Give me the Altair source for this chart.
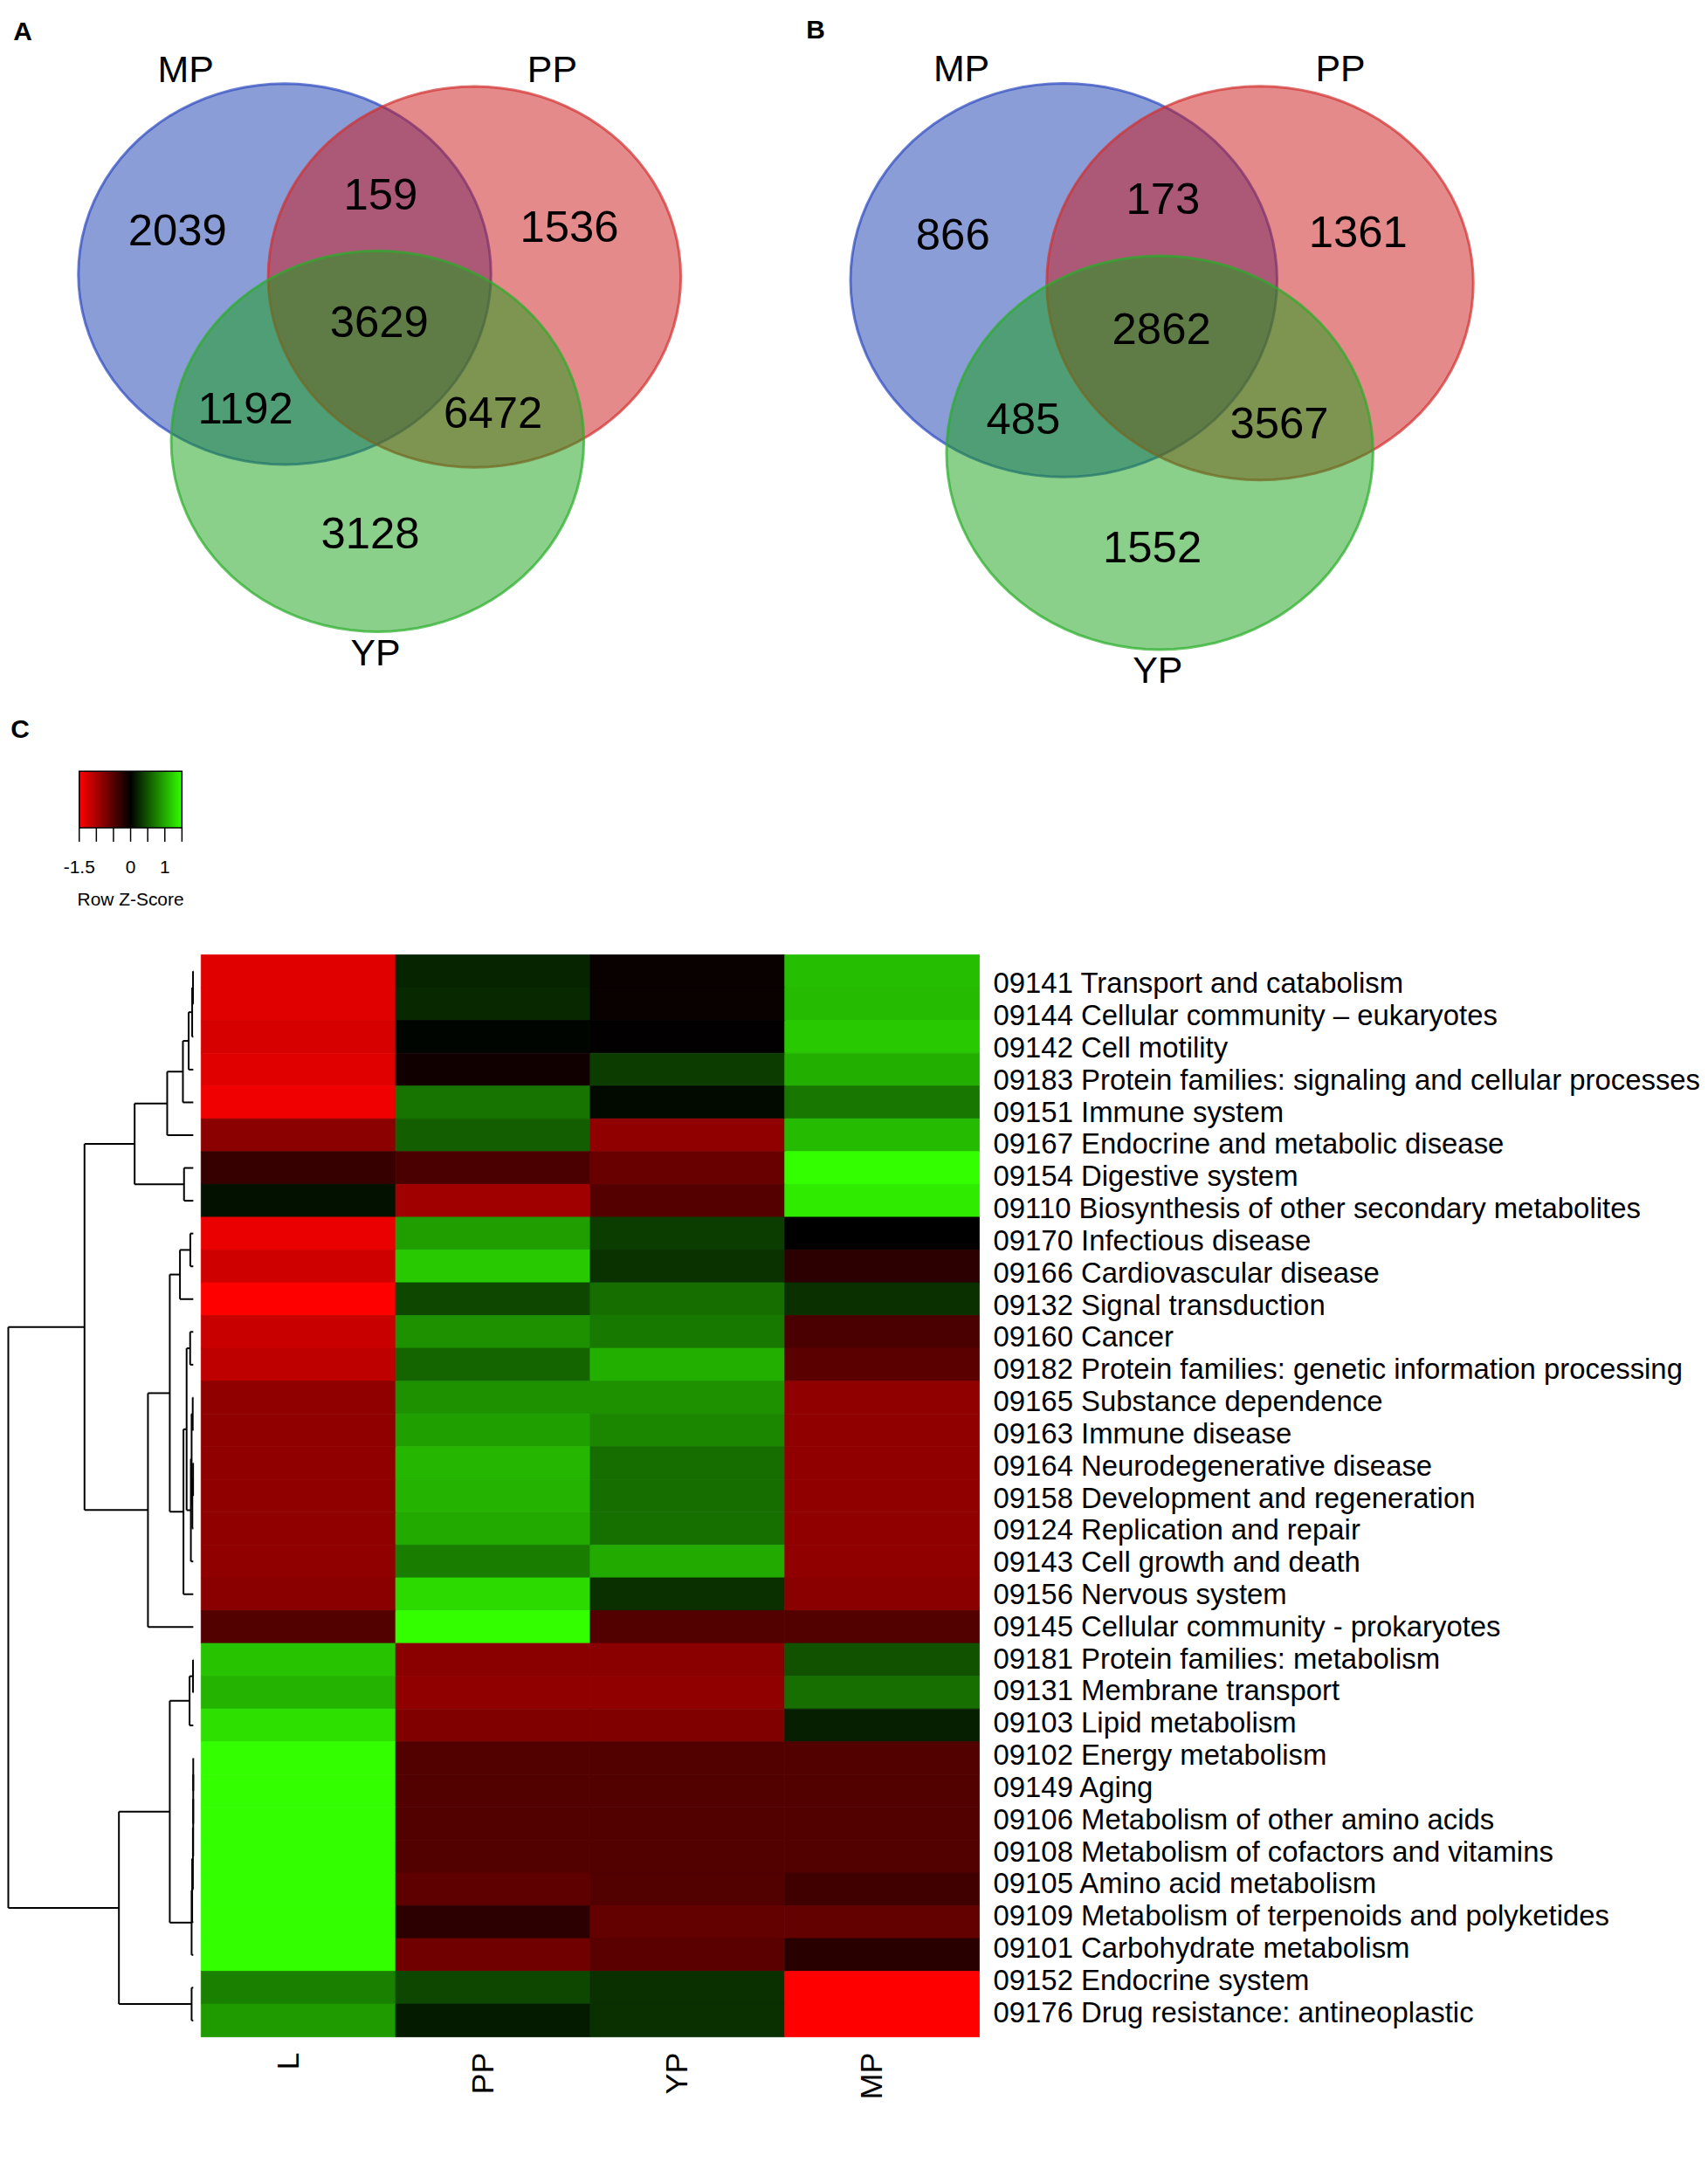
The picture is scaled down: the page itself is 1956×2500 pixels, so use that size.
import math
import altair as alt
import pandas as pd

# ------------------------------------------------------------------ data
venn_sets = ["MP", "PP", "YP"]
venn_regions = ["MP only", "MP&PP", "PP only", "MP&PP&YP", "MP&YP", "PP&YP", "YP only"]
venn_a_counts = [2039, 159, 1536, 3629, 1192, 6472, 3128]
venn_b_counts = [866, 173, 1361, 2862, 485, 3567, 1552]

heat_cols = ["L", "PP", "YP", "MP"]
heat_rows = [
    "09141 Transport and catabolism",
    "09144 Cellular community \u2013 eukaryotes",
    "09142 Cell motility",
    "09183 Protein families: signaling and cellular processes",
    "09151 Immune system",
    "09167 Endocrine and metabolic disease",
    "09154 Digestive system",
    "09110 Biosynthesis of other secondary metabolites",
    "09170 Infectious disease",
    "09166 Cardiovascular disease",
    "09132 Signal transduction",
    "09160 Cancer",
    "09182 Protein families: genetic information processing",
    "09165 Substance dependence",
    "09163 Immune disease",
    "09164 Neurodegenerative disease",
    "09158 Development and regeneration",
    "09124 Replication and repair",
    "09143 Cell growth and death",
    "09156 Nervous system",
    "09145 Cellular community - prokaryotes",
    "09181 Protein families: metabolism",
    "09131 Membrane transport",
    "09103 Lipid metabolism",
    "09102 Energy metabolism",
    "09149 Aging",
    "09106 Metabolism of other amino acids",
    "09108 Metabolism of cofactors and vitamins",
    "09105 Amino acid metabolism",
    "09109 Metabolism of terpenoids and polyketides",
    "09101 Carbohydrate metabolism",
    "09152 Endocrine system",
    "09176 Drug resistance: antineoplastic",
]
z_L = [-1.32, -1.32, -1.26, -1.32, -1.41, -0.82, -0.32, 0.10, -1.38, -1.22, -1.50,
       -1.18, -1.12, -0.85, -0.85, -0.85, -0.85, -0.85, -0.85, -0.81, -0.48,
       1.15, 1.06, 1.32, 1.50, 1.50, 1.50, 1.50, 1.50, 1.50, 1.50, 0.75, 0.91]
z_PP = [0.21, 0.24, 0.03, -0.10, 0.68, 0.56, -0.44, -0.94, 0.93, 1.18, 0.42,
        0.85, 0.59, 0.85, 0.94, 1.07, 1.05, 1.00, 0.74, 1.28, 1.50,
        -0.81, -0.85, -0.75, -0.48, -0.48, -0.48, -0.48, -0.56, -0.26, -0.66, 0.42, 0.16]
z_YP = [-0.05, -0.05, -0.01, 0.35, 0.06, -0.85, -0.62, -0.50, 0.36, 0.29, 0.64,
        0.71, 1.03, 0.85, 0.79, 0.64, 0.64, 0.66, 1.00, 0.28, -0.48,
        -0.81, -0.85, -0.75, -0.48, -0.48, -0.48, -0.48, -0.48, -0.58, -0.53, 0.28, 0.28]
z_MP = [1.12, 1.10, 1.18, 1.03, 0.70, 1.10, 1.50, 1.38, 0.00, -0.26, 0.28,
        -0.44, -0.53, -0.85, -0.85, -0.85, -0.85, -0.85, -0.85, -0.81, -0.48,
        0.48, 0.65, 0.18, -0.48, -0.48, -0.48, -0.48, -0.38, -0.58, -0.24, -1.50, -1.50]

# row dendrogram (hclust-style merge table: negative = leaf position, positive = merge step)
dendro_merges = [
    (-1, -2, 0.14), (1, -3, 0.6), (2, -4, 2.5), (3, -5, 5.6), (4, -6, 14.1),
    (-7, -8, 5.0), (5, 6, 31.7), (-9, -10, 1.6), (8, -11, 7.2), (-12, -13, 1.7),
    (-14, -15, 0.3), (-16, -17, 0.1), (12, -18, 0.5), (11, 13, 0.9), (14, -19, 1.3),
    (10, 15, 3.6), (16, -20, 5.3), (9, 17, 12.7), (18, -21, 24.5), (7, 19, 58.8),
    (-22, -23, 0.14), (21, -24, 2.0), (-25, -26, 0.02), (23, -27, 0.03), (24, -28, 0.04),
    (25, -29, 0.2), (26, -30, 0.6), (27, -31, 0.9), (22, 28, 12.7), (-32, -33, 0.9),
    (29, 30, 40.2), (20, 31, 100.0),
]

legend_ticks = [-1.5, -1.0, -0.5, 0.0, 0.5, 1.0, 1.5]
legend_labels = ["-1.5", "0", "1"]
legend_label_values = [-1.5, 0.0, 1.0]

# ------------------------------------------------------------------ layout / style
FONT = "Liberation Sans, Arial, Helvetica, sans-serif"
NARROW = "Liberation Sans Narrow, Arial Narrow, Liberation Sans, sans-serif"
W, H = 1940, 2484

# Venn geometry in circle-radius units (MP circle centre = origin)
venn_circle_pos = {"MP": (0.0, 0.0), "PP": (0.92, 0.015), "YP": (0.45, 0.877)}
venn_region_pos = [(-0.52, -0.22), (0.465, -0.405), (1.38, -0.236), (0.458, 0.26),
                   (-0.19, 0.715), (1.01, 0.737), (0.415, 1.368)]
venn_label_pos = [(-0.48, -1.067), (1.297, -1.067), (0.44, 1.991)]
venn_fill = ["#173BAD", "#CB1515", "#159F15"]
venn_stroke = ["#2C48C0", "#D23030", "#2AAE2A"]

ASPECT = 0.923
pts = []
for k in range(96):
    t = 2 * math.pi * k / 96
    pts.append(f"{math.cos(t):.4f} {ASPECT * math.sin(t):.4f}")
ELLIPSE = "M " + " L ".join(pts) + " Z"


def venn_panel(counts, x_range, y_range, width_px):
    xs = alt.Scale(domain=[-1, 1], range=x_range)
    ys = alt.Scale(domain=[-1, 1], range=y_range)
    circ = pd.DataFrame({
        "set": venn_sets,
        "ux": [venn_circle_pos[s][0] for s in venn_sets],
        "uy": [venn_circle_pos[s][1] for s in venn_sets],
    })
    ell = alt.Chart(circ).mark_point(
        shape=ELLIPSE, filled=True, opacity=1, fillOpacity=0.5,
        strokeOpacity=0.7, strokeWidth=3, size=width_px ** 2,
    ).encode(
        x=alt.X("ux:Q", scale=xs, axis=None),
        y=alt.Y("uy:Q", scale=ys, axis=None),
        fill=alt.Fill("set:N", scale=alt.Scale(domain=venn_sets, range=venn_fill), legend=None),
        stroke=alt.Stroke("set:N", scale=alt.Scale(domain=venn_sets, range=venn_stroke), legend=None),
        order=alt.Order("order:Q"),
    ).transform_calculate(order="indexof(['MP','PP','YP'], datum.set)")
    reg = pd.DataFrame({
        "region": venn_regions,
        "count": [str(c) for c in counts],
        "ux": [p[0] for p in venn_region_pos],
        "uy": [p[1] for p in venn_region_pos],
    })
    nums = alt.Chart(reg).mark_text(font=FONT, fontSize=51, color="black", baseline="middle").encode(
        x=alt.X("ux:Q", scale=xs, axis=None),
        y=alt.Y("uy:Q", scale=ys, axis=None),
        text="count:N",
    )
    lab = pd.DataFrame({
        "set": venn_sets,
        "ux": [p[0] for p in venn_label_pos],
        "uy": [p[1] for p in venn_label_pos],
    })
    labs = alt.Chart(lab).mark_text(font=FONT, fontSize=43, color="black", baseline="middle").encode(
        x=alt.X("ux:Q", scale=xs, axis=None),
        y=alt.Y("uy:Q", scale=ys, axis=None),
        text="set:N",
    )
    return alt.layer(ell, nums, labs)


venn_a = venn_panel(venn_a_counts, [82, 556], [84, 522], 474)
venn_b = venn_panel(venn_b_counts, [969, 1459], [84, 536], 490)

# panel letters
letters = pd.DataFrame({"t": ["A", "B", "C"], "px": [18, 929, 15], "py": [25, 23, 827]})
letter_layer = alt.Chart(letters).mark_text(font=FONT, fontSize=30, fontWeight="bold",
                                            baseline="middle", color="black").encode(
    x=alt.X("px:Q", scale=None), y=alt.Y("py:Q", scale=None), text="t:N")

# ------------------------------------------------------------------ heatmap
ZCOLORS = ["#FF0000", "#000000", "#33FF00"]
zscale = alt.Scale(domain=[-1.5, 0, 1.5], range=ZCOLORS, interpolate="rgb", clamp=True)
col_scale = alt.Scale(domain=heat_cols, range=[223, 1117], paddingInner=0, paddingOuter=0)
row_scale = alt.Scale(domain=[0, len(heat_rows)], range=[1085, 2328])

recs = []
for i, r in enumerate(heat_rows):
    for c, arr in zip(heat_cols, [z_L, z_PP, z_YP, z_MP]):
        recs.append({"row": r, "col": c, "z": arr[i], "r0": i, "r1": i + 1})
heat_df = pd.DataFrame(recs)

heat = alt.Chart(heat_df).mark_rect(strokeWidth=0.8).encode(
    x=alt.X("col:N", scale=col_scale, axis=None),
    y=alt.Y("r0:Q", scale=row_scale, axis=None),
    y2="r1:Q",
    fill=alt.Fill("z:Q", scale=zscale, legend=None),
    stroke=alt.Stroke("z:Q", scale=zscale, legend=None),
)

# dendrogram segments from the merge table
node_pos = {}
segs = []


def pos(ref):
    if ref < 0:
        return (-ref - 0.5, 0.0)
    return node_pos[ref]


for j, (a, b, h) in enumerate(dendro_merges, start=1):
    ya, ha = pos(a)
    yb, hb = pos(b)
    segs.append({"h1": h, "h2": h, "y1": ya, "y2": yb})
    segs.append({"h1": ha, "h2": h, "y1": ya, "y2": ya})
    segs.append({"h1": hb, "h2": h, "y1": yb, "y2": yb})
    node_pos[j] = ((ya + yb) / 2, h)
seg_df = pd.DataFrame(segs)

dendro = alt.Chart(seg_df).mark_rule(color="black", strokeWidth=2).encode(
    x=alt.X("h1:Q", scale=alt.Scale(domain=[0, 100], range=[214, 1.5]), axis=None),
    x2="h2:Q",
    y=alt.Y("y1:Q", scale=row_scale, axis=None),
    y2="y2:Q",
)

row_labels = alt.Chart(pd.DataFrame({"row": heat_rows})).mark_text(
    font=FONT, fontSize=33, align="left", baseline="middle", color="black"
).encode(
    y=alt.Y("row:N", scale=alt.Scale(domain=heat_rows, range=[1100.5, 2319.5],
                                     paddingInner=0, paddingOuter=0), axis=None),
    x=alt.value(1133),
    text="row:N",
)

col_labels = alt.Chart(pd.DataFrame({"col": heat_cols})).mark_text(
    font=FONT, fontSize=36, angle=270, align="right", baseline="alphabetic", color="black"
).encode(
    x=alt.X("col:N", scale=col_scale, axis=None),
    y=alt.value(2346),
    text="col:N",
)

# ------------------------------------------------------------------ colour key
key_scale = alt.Scale(domain=[-1.5, 1.5], range=[83, 201])
key_bar = alt.Chart(pd.DataFrame({"lo": [-1.5], "hi": [1.5]})).mark_rect(
    fill=alt.Gradient(
        gradient="linear",
        stops=[alt.GradientStop(color=ZCOLORS[0], offset=0),
               alt.GradientStop(color=ZCOLORS[1], offset=0.5),
               alt.GradientStop(color=ZCOLORS[2], offset=1)],
        x1=0, x2=1, y1=0, y2=0,
    ),
    stroke="black", strokeWidth=1.5,
).encode(
    x=alt.X("lo:Q", scale=key_scale, axis=None), x2="hi:Q",
    y=alt.value(874), y2=alt.value(939),
)
key_ticks = alt.Chart(pd.DataFrame({"v": legend_ticks})).mark_rule(color="black", strokeWidth=1.5).encode(
    x=alt.X("v:Q", scale=key_scale, axis=None),
    y=alt.value(939), y2=alt.value(955),
)
key_labels = alt.Chart(pd.DataFrame({"v": legend_label_values, "t": legend_labels})).mark_text(
    font=NARROW, fontSize=21, baseline="middle", color="black"
).encode(
    x=alt.X("v:Q", scale=key_scale, axis=None),
    y=alt.value(985),
    text="t:N",
)
key_title = alt.Chart(pd.DataFrame({"t": ["Row Z-Score"]})).mark_text(
    font=NARROW, fontSize=21, baseline="middle", color="black"
).encode(x=alt.value(142), y=alt.value(1022), text="t:N")
key = alt.layer(key_bar, key_ticks, key_labels, key_title)

# ------------------------------------------------------------------ assemble
chart = alt.layer(
    venn_a, venn_b, letter_layer, key, heat, dendro, row_labels, col_labels
).resolve_scale(
    x="independent", y="independent", fill="independent", stroke="independent"
).properties(
    width=W, height=H, padding=0
).configure_view(stroke=None)

chart.save("out.html", embed_options={"renderer": "svg", "actions": False})
